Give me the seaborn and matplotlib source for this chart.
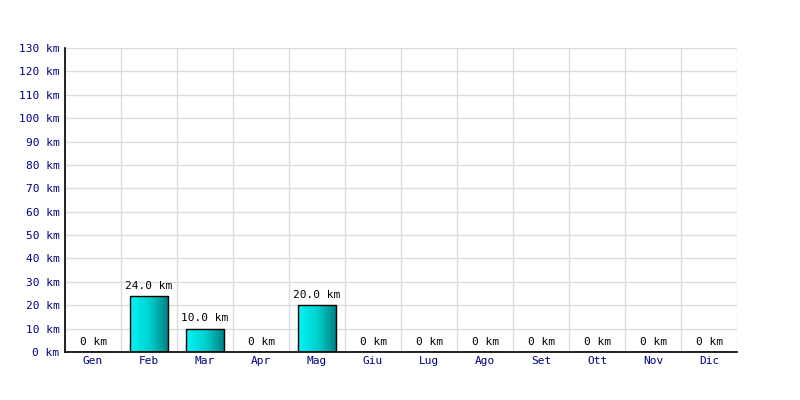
import numpy as np
import pandas as pd
import matplotlib
matplotlib.use("Agg")
import matplotlib.pyplot as plt
from matplotlib.colors import LinearSegmentedColormap
import seaborn as sns

# dati
mesi = ['Gen', 'Feb', 'Mar', 'Apr', 'Mag', 'Giu', 'Lug', 'Ago', 'Set', 'Ott', 'Nov', 'Dic']
km = [0, 24.0, 10.0, 0, 20.0, 0, 0, 0, 0, 0, 0, 0]
y_ticks = list(range(0, 140, 10))

df = pd.DataFrame({'mese': mesi, 'km': km})

sns.set_style("white")
plt.rcParams['font.family'] = ['DejaVu Sans Mono']

fig = plt.figure(figsize=(8, 4), dpi=100)
ax = fig.add_axes([0.08125, 0.12, 0.84, 0.76])

sns.barplot(data=df, x='mese', y='km', ax=ax, width=0.68,
            color='#00c0c0', edgecolor='black', linewidth=1, zorder=3)

# gradiente orizzontale dentro le barre
grad = LinearSegmentedColormap.from_list('g', ['#00f4f4', '#00d0d0', '#007f7f'])
img = np.linspace(0, 1, 64).reshape(1, -1)
for p in ax.patches:
    h = p.get_height()
    if h <= 0:
        continue
    x0, w = p.get_x(), p.get_width()
    p.set_facecolor('none')
    im = ax.imshow(img, cmap=grad, aspect='auto', extent=[x0, x0 + w, 0, h],
                   zorder=2.5, interpolation='bilinear')
    im.set_clip_path(p)

for i, v in enumerate(km):
    lab = "0 km" if v == 0 else f"{v:.1f} km"
    ax.text(i, v + 2.2, lab, ha='center', va='bottom', fontsize=8, color='black', zorder=4)

ax.set_xlim(-0.5, 11.5)
ax.set_ylim(0, 130)
ax.set_yticks(y_ticks)
ax.set_yticklabels([f"{t} km" for t in y_ticks])
ax.set_xticks(range(12))
ax.set_xticklabels(mesi)
ax.set_xticks(np.arange(-0.5, 12, 1), minor=True)
ax.tick_params(axis='both', which='both', length=0, labelsize=8, labelcolor='#000080')
ax.tick_params(axis='x', pad=3)
ax.tick_params(axis='y', pad=4)
ax.grid(True, axis='y', which='major', color='#dcdcdc', linewidth=1, zorder=0)
ax.grid(True, axis='x', which='minor', color='#dcdcdc', linewidth=1, zorder=0)
ax.grid(False, axis='x', which='major')
ax.set_xlabel('')
ax.set_ylabel('')
for s in ['top', 'right']:
    ax.spines[s].set_visible(False)
for s in ['left', 'bottom']:
    ax.spines[s].set_color('black')
    ax.spines[s].set_linewidth(1.2)

fig.savefig('out.png', dpi=100)
